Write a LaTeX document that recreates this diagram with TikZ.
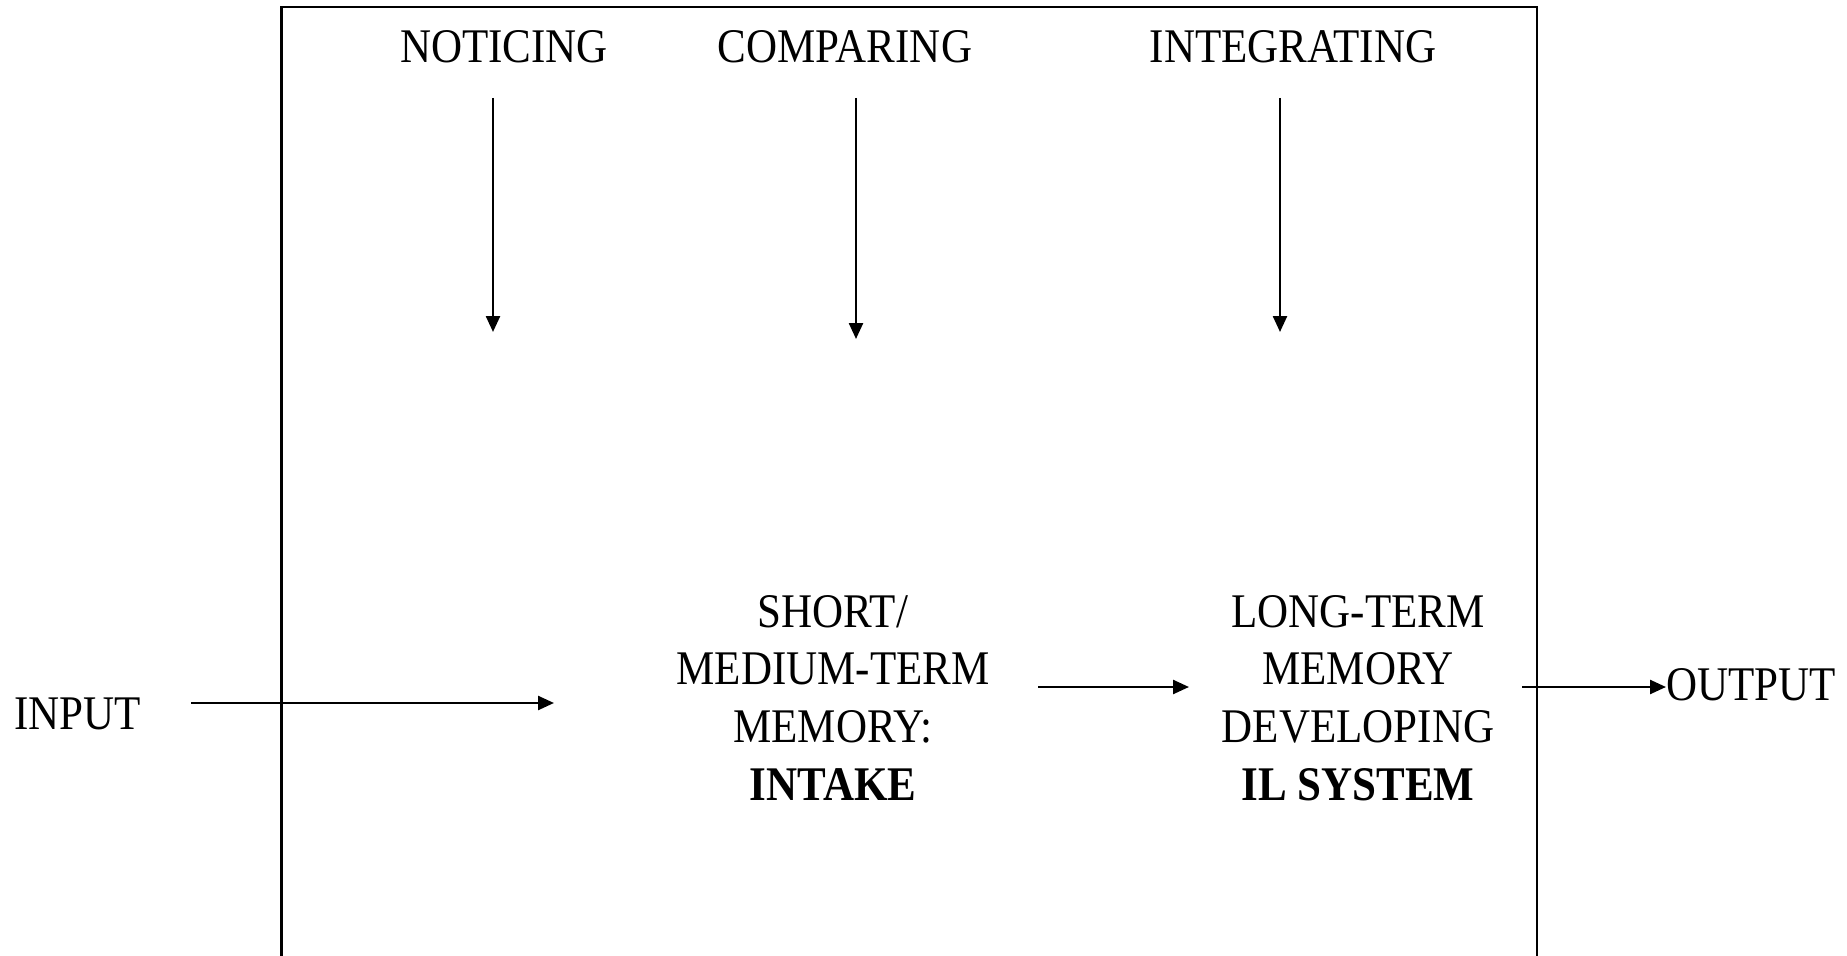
\documentclass[tikz,border=0pt]{standalone}
\usepackage{fontspec}
\setmainfont{Liberation Serif}[FakeStretch=0.89]
\usetikzlibrary{arrows.meta,positioning}

\begin{document}
\begin{tikzpicture}[
    x=0.02cm, y=-0.02cm,
    lbl/.style={font=\fontsize{27.5pt}{32.8pt}\selectfont, inner sep=0pt},
    mem/.style={lbl, align=center, anchor=base},
    arr/.style={-{Triangle[length=0.32cm, width=0.28cm]}, line width=1.4pt},
    frame/.style={line width=1.6pt}
]
\useasboundingbox (0,0) rectangle (1847,956);

\draw[frame] (281.5,956) -- (281.5,7) -- (1537,7) -- (1537,956);

\node[lbl, anchor=base] (p1) at (504,63) {NOTICING};
\node[lbl, anchor=base] (p2) at (845,63) {COMPARING};
\node[lbl, anchor=base] (p3) at (1293,63) {INTEGRATING};

\coordinate (a1) at (493,98);
\coordinate (b1) at (493,332);
\coordinate (a2) at (856,98);
\coordinate (b2) at (856,339);
\coordinate (a3) at (1280,98);
\coordinate (b3) at (1280,332);

\draw[arr] (a1) -- (b1);
\draw[arr] (a2) -- (b2);
\draw[arr] (a3) -- (b3);

\node[lbl, anchor=base west] (in) at (14,729) {INPUT};
\node[mem] (intake) at (833,800) {SHORT/\\MEDIUM-TERM\\MEMORY:\\\textbf{INTAKE}};
\node[mem] (ltm) at (1358,800) {LONG-TERM\\MEMORY\\DEVELOPING\\\textbf{IL SYSTEM}};
\node[lbl, anchor=base west] (out) at (1666,700) {OUTPUT};

\coordinate (i1) at (191,703);
\coordinate (i2) at (554,703);
\coordinate (m1) at (1038,687);
\coordinate (m2) at (1189,687);
\coordinate (o1) at (1522,687);

\draw[arr] (i1) -- (i2);
\draw[arr] (m1) -- (m2);
\draw[arr] (o1) -- (o1 -| out.west);

\end{tikzpicture}
\end{document}
